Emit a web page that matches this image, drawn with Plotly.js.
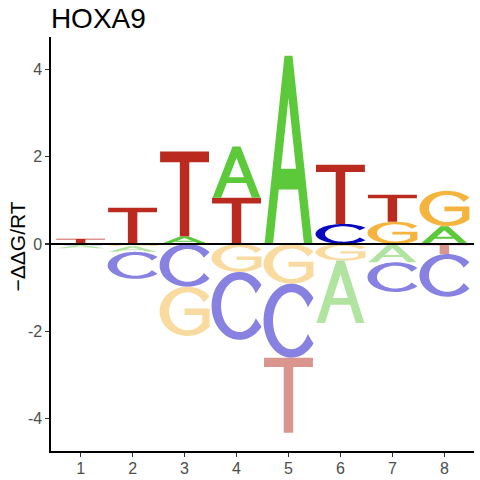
<!DOCTYPE html>
<html>
<head>
<meta charset="utf-8">
<script src="https://cdn.plot.ly/plotly-3.0.1.min.js"></script>
<style>html,body{margin:0;padding:0;background:#fff;}#chart{width:480px;height:480px;}</style>
</head>
<body>
<div id="chart"></div>
<script>
// ---- data ----
const positions = [1, 2, 3, 4, 5, 6, 7, 8];
const xTickLabels = ['1', '2', '3', '4', '5', '6', '7', '8'];
const yTickVals = [-4, -2, 0, 2, 4];
const yTickLabels = ['-4', '-2', '0', '2', '4'];
const letters = ['A', 'C', 'G', 'T'];
const valA = [-0.07, -0.13, 0.18, 1.18, 4.32, -1.43, -0.42, 0.41];
const valC = [-0.03, -0.62, -0.98, -1.56, -1.70, 0.46, -0.68, -0.98];
const valG = [0.00, -0.05, -1.13, -0.64, -0.91, -0.38, 0.51, 0.81];
const valT = [0.12, 0.83, 1.94, 1.06, -1.72, 1.36, 0.62, -0.23];
const titleText = 'HOXA9';
const yTitle = '\u2212\u0394\u0394G/RT';

// ---- styles ----
const posColor = {A: '#5CC93B', C: '#0808C0', G: '#F4B43E', T: '#BA2A1F'};
const negColor = {A: '#B1E4A1', C: '#8781E1', G: '#F9DA9F', T: '#DA958F'};
const boxW = 0.96;

// ---- glyph outlines in a unit box (u right, v up) ----
function arc(cx, cy, rx, ry, a0, a1, n) {
  const pts = [];
  for (let i = 0; i <= n; i++) {
    const a = (a0 + (a1 - a0) * i / n) * Math.PI / 180;
    pts.push([cx + rx * Math.cos(a), cy + ry * Math.sin(a)]);
  }
  return pts;
}
const CX = 0.56, CY = 0.5, RXO = 0.56, RYO = 0.5, RXI = 0.37, RYI = 0.385;
function glyph(L) {
  if (L === 'T') {
    return [[[0.405,0],[0.405,0.875],[0.01,0.875],[0.01,1],[0.99,1],[0.99,0.875],[0.595,0.875],[0.595,0]]];
  }
  if (L === 'A') {
    return [
      [[0.02,0],[0.42,1],[0.58,1],[0.98,0],[0.81,0],[0.694,0.29],[0.306,0.29],[0.19,0]],
      [[0.35,0.40],[0.65,0.40],[0.5,0.775]]
    ];
  }
  if (L === 'C') {
    const outer = arc(CX, CY, RXO, RYO, 38, 322, 48);
    const inner = arc(CX, CY, RXI, RYI, 332, 28, 48);
    return [outer.concat(inner)];
  }
  if (L === 'G') {
    const outer = arc(CX, CY, RXO, RYO, 38, 322, 48);
    const phi = 360 - Math.acos((0.855 - CX) / RXI) * 180 / Math.PI;
    const vI = CY + RYI * Math.sin(phi * Math.PI / 180);
    const mid = [[1.0, 0.555], [0.5, 0.555], [0.5, 0.425], [0.855, 0.425], [0.855, vI]];
    const inner = arc(CX, CY, RXI, RYI, phi, 28, 48);
    return [outer.concat(mid, inner)];
  }
}

function letterPath(L, xc, y0, y1) {
  const x0 = xc - boxW / 2;
  let d = '';
  glyph(L).forEach(c => {
    c.forEach((p, i) => {
      const X = x0 + p[0] * boxW;
      const Y = y0 + p[1] * (y1 - y0);
      d += (i === 0 ? 'M' : 'L') + X.toFixed(4) + ',' + Y.toFixed(4);
    });
    d += 'Z';
  });
  return d;
}

const vals = {A: valA, C: valC, G: valG, T: valT};
const shapes = [];
positions.forEach((p, i) => {
  const pos = letters.filter(L => vals[L][i] > 0).sort((a, b) => vals[a][i] - vals[b][i]);
  const neg = letters.filter(L => vals[L][i] < 0).sort((a, b) => vals[b][i] - vals[a][i]);
  let y = 0;
  pos.forEach(L => {
    const h = vals[L][i];
    shapes.push({type: 'path', xref: 'x', yref: 'y', layer: 'below', path: letterPath(L, p, y, y + h),
      fillcolor: posColor[L], fillrule: 'evenodd', line: {width: 0}});
    y += h;
  });
  y = 0;
  neg.forEach(L => {
    const h = vals[L][i];
    shapes.push({type: 'path', xref: 'x', yref: 'y', layer: 'below', path: letterPath(L, p, y + h, y),
      fillcolor: negColor[L], fillrule: 'evenodd', line: {width: 0}});
    y += h;
  });
});

const trace = {x: positions, y: positions.map(() => 0), type: 'scatter', mode: 'markers',
  marker: {opacity: 0}, hoverinfo: 'skip', showlegend: false};

const axisCommon = {showgrid: false, showline: true, linecolor: 'black', linewidth: 1.6,
  ticks: 'outside', ticklen: 4, tickwidth: 1.2, tickcolor: '#333333',
  tickfont: {size: 16, color: '#4D4D4D'}, fixedrange: true};

const layout = {
  width: 480, height: 480,
  margin: {l: 51, r: 6, t: 37, b: 29},
  paper_bgcolor: '#ffffff', plot_bgcolor: '#ffffff',
  font: {family: '"Liberation Sans", Arial, sans-serif'},
  showlegend: false,
  title: {text: titleText, font: {size: 28, color: '#000000'}, xref: 'container', x: 0.106, xanchor: 'left',
    yref: 'container', y: 0.963, yanchor: 'middle'},
  xaxis: Object.assign({}, axisCommon, {range: [0.43, 8.57], tickvals: positions, ticktext: xTickLabels,
    zeroline: false, ticklabelstandoff: -2}),
  yaxis: Object.assign({}, axisCommon, {range: [-4.75, 4.75], tickvals: yTickVals, ticktext: yTickLabels,
    zeroline: true, zerolinecolor: '#000000', zerolinewidth: 1.2}),
  annotations: [{text: yTitle, xref: 'paper', yref: 'paper', x: -0.079, y: 0.493,
    xanchor: 'center', yanchor: 'middle', textangle: -90, showarrow: false,
    font: {size: 21, color: '#000000'}}],
  shapes: shapes
};

Plotly.newPlot('chart', [trace], layout, {staticPlot: true, displayModeBar: false});
</script>
</body>
</html>
